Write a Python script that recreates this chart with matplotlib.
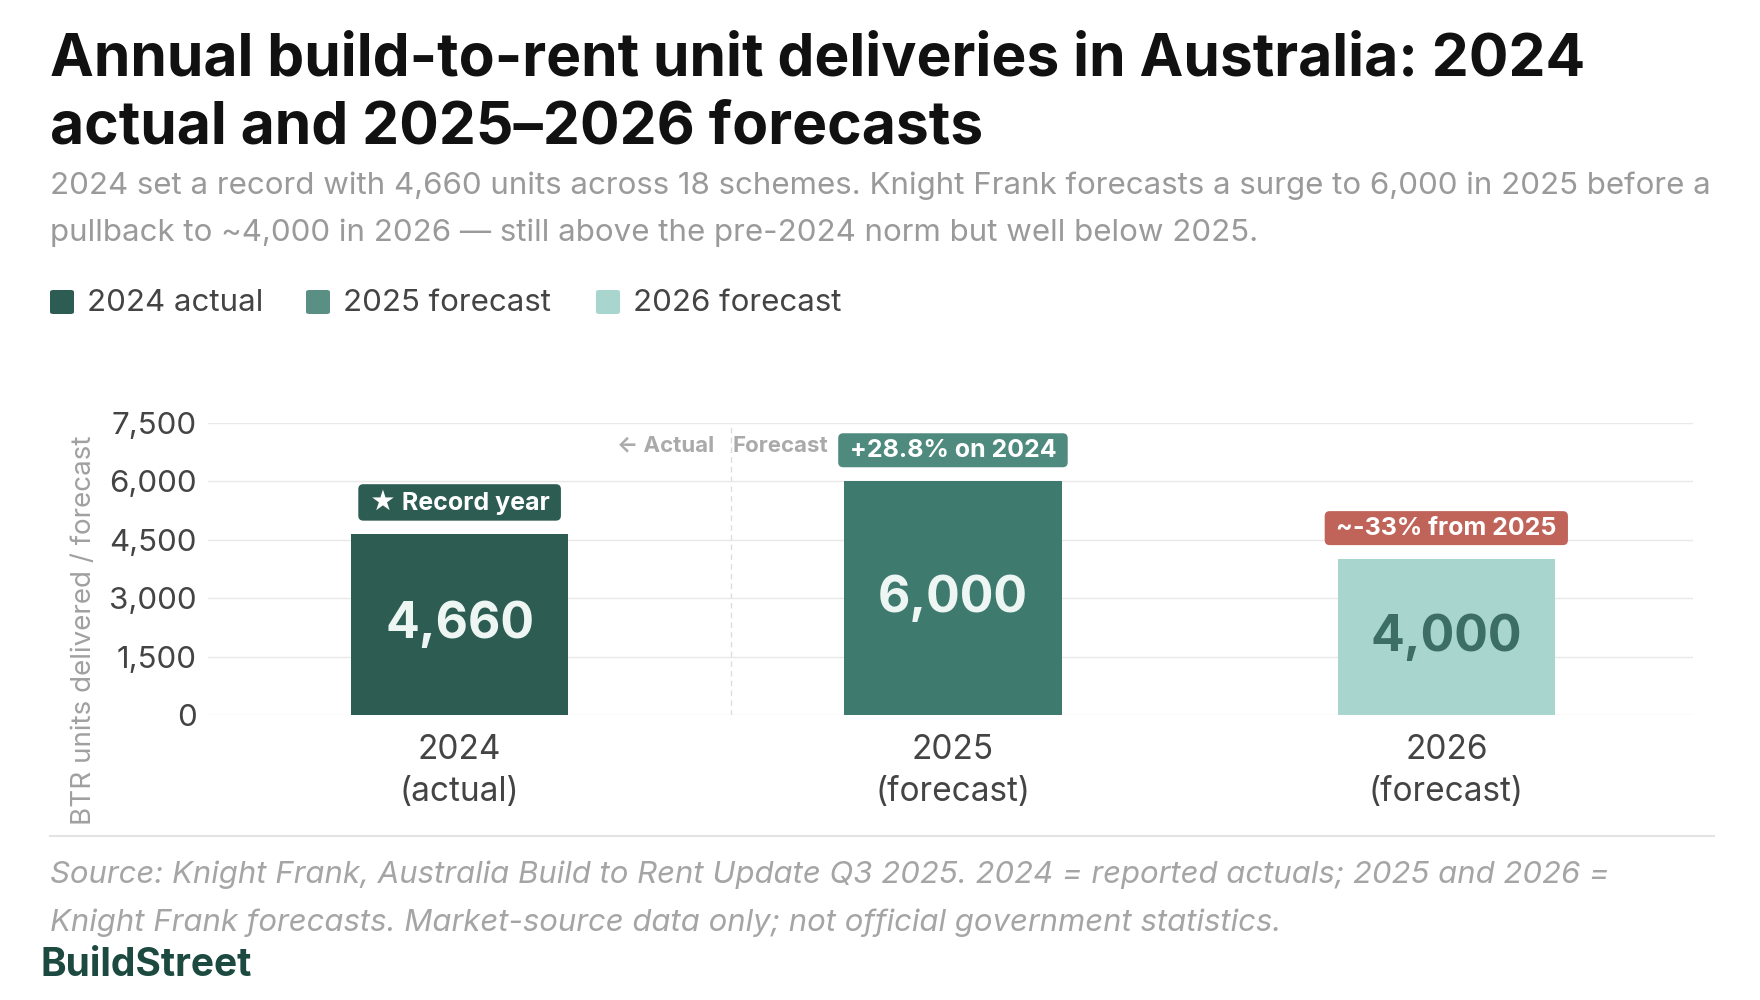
"""
Build-to-rent deliveries in Australia - bar chart with annotations
"""
import matplotlib
matplotlib.use("Agg")
import matplotlib.pyplot as plt
from matplotlib.patches import FancyBboxPatch

# 数据
years = ["2024\n(actual)", "2025\n(forecast)", "2026\n(forecast)"]
units = [4660, 6000, 4000]
legend_labels = ["2024 actual", "2025 forecast", "2026 forecast"]
badges = ["★ Record year", "+28.8% on 2024", "~-33% from 2025"]
y_ticks = [0, 1500, 3000, 4500, 6000, 7500]

# 颜色
bar_colors = ["#2d5c53", "#3f7a6f", "#a8d5ce"]
legend_colors = ["#2d5c53", "#5a8f84", "#a8d5ce"]
badge_colors = ["#2d5c53", "#4f8a7e", "#c0645a"]
value_colors = ["#eef6f4", "#eef6f4", "#3d6e66"]

W, H = 1760, 1000
plt.rcParams["font.family"] = ["Inter", "DejaVu Sans"]

fig = plt.figure(figsize=(W / 100, H / 100), dpi=100)
fig.patch.set_facecolor("white")


def fx(px):
    return px / W


def fy(py):
    return 1 - py / H


# 标题和副标题
fig.text(fx(50), fy(76), "Annual build-to-rent unit deliveries in Australia: 2024",
         fontsize=42.3, fontweight="bold", color="#111111", va="baseline")
fig.text(fx(50), fy(144), "actual and 2025\u20132026 forecasts",
         fontsize=42.3, fontweight="bold", color="#111111", va="baseline")
fig.text(fx(50), fy(186), "2024 set a record with 4,660 units across 18 schemes. Knight Frank forecasts a surge to 6,000 in 2025 before a",
         fontsize=22.5, color="#9a9a9a", va="center")
fig.text(fx(50), fy(233), "pullback to ~4,000 in 2026 \u2014 still above the pre-2024 norm but well below 2025.",
         fontsize=22.5, color="#9a9a9a", va="center")

# 图例
leg_x = [50, 306, 596]
for x0, lab, col in zip(leg_x, legend_labels, legend_colors):
    fig.patches.append(FancyBboxPatch((fx(x0), fy(314)), fx(24), 24 / H,
                                      boxstyle="round,pad=0,rounding_size=0.002",
                                      transform=fig.transFigure, facecolor=col,
                                      edgecolor="none"))
    fig.text(fx(x0 + 37), fy(303), lab, fontsize=22.5, color="#444444", va="center")

# 主图
ax = fig.add_axes([fx(208), 1 - 715 / H, fx(1693 - 208), (715 - 423) / H])
x = list(range(len(units)))
ax.bar(x, units, width=0.44, color=bar_colors, zorder=3)
ax.set_xlim(-0.51, 2.5)
ax.set_ylim(0, 7500)
ax.set_yticks(y_ticks)
ax.set_yticklabels([f"{v:,}" for v in y_ticks])
ax.set_xticks(x)
ax.set_xticklabels(years)
ax.tick_params(axis="y", length=0, labelsize=22.5, labelcolor="#444444", pad=8)
ax.tick_params(axis="x", length=0, labelsize=24, labelcolor="#444444", pad=14)
for lab in ax.get_xticklabels():
    lab.set_linespacing(1.4)
ax.grid(axis="y", color="#e8e8e8", linewidth=1, zorder=0)
for s in ax.spines.values():
    s.set_visible(False)
ax.set_ylabel("BTR units delivered / forecast", fontsize=20, color="#a0a0a0")
ax.yaxis.set_label_coords(-0.075, 0.29)

# 实际/预测分界
div_x = 0.55
ax.axvline(div_x, color="#dddddd", linestyle=(0, (4, 3)), linewidth=1, zorder=1)
ax.text(div_x - 0.035, 6920, "\u2190 Actual", ha="right", va="center", fontsize=16,
        fontweight="bold", color="#aaaaaa")
ax.text(div_x + 0.003, 6920, "Forecast", ha="left", va="center", fontsize=16,
        fontweight="bold", color="#aaaaaa")

# 数值与标签
for xi, v, vc, b, bc in zip(x, units, value_colors, badges, badge_colors):
    ax.text(xi, v / 2, f"{v:,}", ha="center", va="center", fontsize=36,
            fontweight="bold", color=vc, zorder=4)
    ax.text(xi, v + 800, " " + b + " ", ha="center", va="center", fontsize=18,
            fontweight="bold", color="white", zorder=5,
            bbox=dict(boxstyle="round,pad=0.22,rounding_size=0.2", facecolor=bc,
                      edgecolor="none"))

# 底部
fig.add_artist(plt.Line2D([fx(50), fx(1714)], [fy(836), fy(836)],
                          color="#e3e3e3", linewidth=1.5))
fig.text(fx(50), fy(875), "Source: Knight Frank, Australia Build to Rent Update Q3 2025. 2024 = reported actuals; 2025 and 2026 =",
         fontsize=22.4, style="italic", color="#a5a5a5", va="center")
fig.text(fx(50), fy(923), "Knight Frank forecasts. Market-source data only; not official government statistics.",
         fontsize=22.4, style="italic", color="#a5a5a5", va="center")
fig.text(fx(40), fy(966), "BuildStreet", fontsize=28, fontweight="bold",
         color="#1d4a40", va="center")

fig.savefig("out.png", dpi=100)
